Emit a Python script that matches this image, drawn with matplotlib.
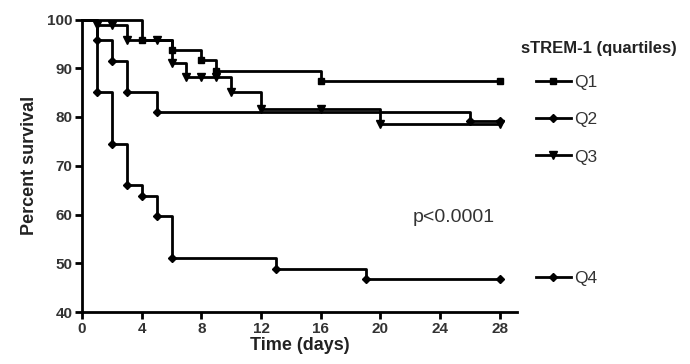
import matplotlib.pyplot as plt
import numpy as np

plt.rcParams['font.family'] = ['Liberation Sans', 'DejaVu Sans']

# Kaplan-Meier steps (time in days, percent survival after each event)
q1_time = [0, 4, 6, 8, 9, 16]
q1_surv = [100, 95.8, 93.8, 91.7, 89.5, 87.4]
q1_cens = [28]

q2_time = [0, 1, 2, 3, 5, 26]
q2_surv = [100, 95.7, 91.5, 85.2, 81.1, 79.1]
q2_cens = [28]

q3_time = [0, 1, 3, 6, 7, 10, 12, 20]
q3_surv = [100, 98.8, 95.8, 91.0, 88.3, 85.2, 81.7, 78.6]
q3_cens = [2, 5, 8, 9, 16, 28]

q4_time = [0, 1, 2, 3, 4, 5, 6, 13, 19]
q4_surv = [100, 85.1, 74.5, 66.0, 63.8, 59.6, 51.1, 48.9, 46.8]
q4_cens = [28]

labels = ['Q1', 'Q2', 'Q3', 'Q4']
markers = ['s', 'D', 'v', 'D']
msizes = [5, 4, 5.5, 4]
end_day = 28

fig = plt.figure(figsize=(6.9, 3.64), dpi=100)
ax = fig.add_axes([82/690, 52/364, (517-82)/690, (344.5-52)/364])

series = [(q1_time, q1_surv, q1_cens), (q2_time, q2_surv, q2_cens),
          (q3_time, q3_surv, q3_cens), (q4_time, q4_surv, q4_cens)]
handles = []
for (t, s, c), lab, mk, ms in zip(series, labels, markers, msizes):
    tt = np.array(t + [end_day])
    ss = np.array(s + [s[-1]])
    ax.step(tt, ss, where='post', color='black', lw=2, clip_on=False, zorder=3)
    # symbols at events and censored times
    ax.plot(t[1:], s[1:], ls='none', marker=mk, ms=ms, color='black',
            clip_on=False, zorder=4)
    c = np.array(c)
    idx = np.searchsorted(np.array(t), c, side='right') - 1
    ax.plot(c, np.array(s)[idx], ls='none', marker=mk, ms=ms, color='black',
            clip_on=False, zorder=4)
    h, = ax.plot([], [], color='black', lw=2, marker=mk, ms=ms)
    handles.append(h)

ax.set_xlim(0, 29.15)
ax.set_ylim(40, 100)
ax.set_xticks(np.arange(0, 29, 4))
ax.set_yticks(np.arange(40, 101, 10))
for side in ['top', 'right']:
    ax.spines[side].set_visible(False)
for side in ['left', 'bottom']:
    ax.spines[side].set_linewidth(2)
ax.tick_params(width=2, length=5, labelsize=11, pad=2)
for lbl in ax.get_xticklabels() + ax.get_yticklabels():
    lbl.set_fontweight('bold')
    lbl.set_color('#333333')

ax.set_xlabel('Time (days)', fontsize=13, fontweight='bold', labelpad=1, color='#222222')
ax.set_ylabel('Percent survival', fontsize=13, fontweight='bold', labelpad=6, color='#222222')

ax.text(413/690, 1 - 217/364, 'p<0.0001', transform=fig.transFigure,
        fontsize=14, va='center', ha='left', color='#333333')

fig.text(521/690, 1 - 48/364, 'sTREM-1 (quartiles)', fontsize=12,
         fontweight='bold', va='center', ha='left', color='#222222')

leg1 = fig.legend(handles[:3], labels[:3], loc='upper left',
                  bbox_to_anchor=(536/690, 1 - 75/364), frameon=False,
                  fontsize=12.5, handlelength=2.0, handletextpad=0.2,
                  labelspacing=1.27, borderpad=0, borderaxespad=0)
leg2 = fig.legend(handles[3:], labels[3:], loc='upper left',
                  bbox_to_anchor=(536/690, 1 - 271/364), frameon=False,
                  fontsize=12.5, handlelength=2.0, handletextpad=0.2,
                  borderpad=0, borderaxespad=0)
for leg in (leg1, leg2):
    for txt in leg.get_texts():
        txt.set_color('#333333')

fig.savefig('out.png', dpi=100)
